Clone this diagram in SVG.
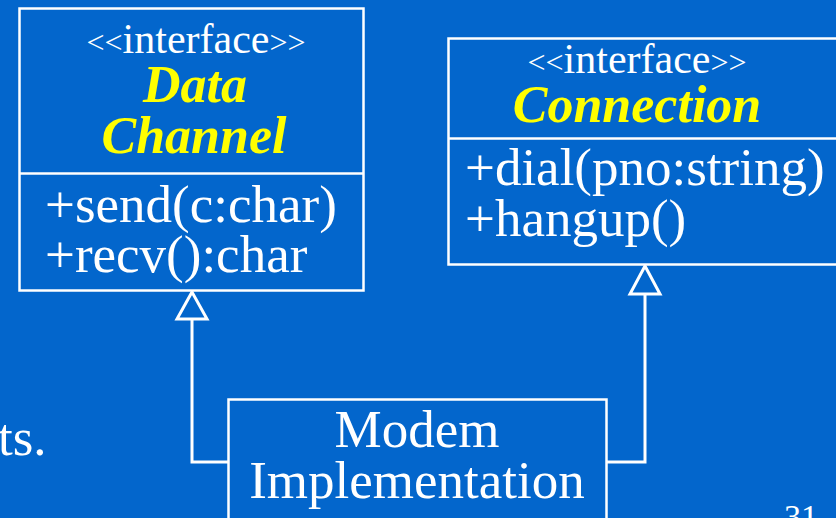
<svg xmlns="http://www.w3.org/2000/svg" width="836" height="518" viewBox="0 0 836 518">
  <defs>
    <style>
      .bg { fill: #0366CC; }
      .box { fill: #0366CC; stroke: #FFFFFF; stroke-width: 2.5; }
      .div { stroke: #FFFFFF; stroke-width: 2.5; }
      .wire { fill: none; stroke: #FFFFFF; stroke-width: 3; }
      .head { fill: #0366CC; stroke: #FFFFFF; stroke-width: 3; stroke-linejoin: miter; }
      .t { font-family: "Liberation Serif", "Times New Roman", serif; fill: #FFFFFF; }
      .stereo { font-size: 42px; text-anchor: middle; }
      .ang { font-size: 32px; }
      .name { font-size: 52px; font-weight: bold; font-style: italic; fill: #FFFF00; text-anchor: middle; }
      .op { font-size: 53px; }
      .mid { text-anchor: middle; }
    </style>
  </defs>

  <rect class="bg" x="0" y="0" width="836" height="518"/>

  <!-- partial slide text -->
  <text class="t op" x="-2" y="455">ts.</text>
  <text class="t" x="784" y="528" font-size="34">31</text>

  <!-- realization connectors -->
  <g id="connectors">
    <polyline class="wire" points="229,462 192,462 192,319"/>
    <polygon class="head" points="192,292 177,319 207,319"/>
    <polyline class="wire" points="606,462 645,462 645,294"/>
    <polygon class="head" points="645,266 630,294 660,294"/>
  </g>

  <g id="data-channel">
    <rect class="box" x="19.5" y="8.5" width="344" height="282"/>
    <line class="div" x1="19.5" y1="173.5" x2="363.5" y2="173.5"/>
    <text class="t stereo" x="196" y="53"><tspan class="ang">&lt;&lt;</tspan>interface<tspan class="ang">&gt;&gt;</tspan></text>
    <text class="t name" x="195" y="102">Data</text>
    <text class="t name" x="194" y="153">Channel</text>
    <text class="t op" x="45" y="222">+send(c:char)</text>
    <text class="t op" x="45" y="272">+recv():char</text>
  </g>

  <g id="connection">
    <rect class="box" x="448.5" y="38.5" width="400" height="226"/>
    <line class="div" x1="448.5" y1="138.5" x2="848" y2="138.5"/>
    <text class="t stereo" x="637" y="73"><tspan class="ang">&lt;&lt;</tspan>interface<tspan class="ang">&gt;&gt;</tspan></text>
    <text class="t name" x="637" y="122">Connection</text>
    <text class="t op" x="465" y="185">+dial(pno:string)</text>
    <text class="t op" x="465" y="236">+hangup()</text>
  </g>

  <g id="modem-implementation">
    <rect class="box" x="228.5" y="399.5" width="378" height="130"/>
    <text class="t op mid" x="417" y="447">Modem</text>
    <text class="t op mid" x="417" y="498">Implementation</text>
  </g>
</svg>
